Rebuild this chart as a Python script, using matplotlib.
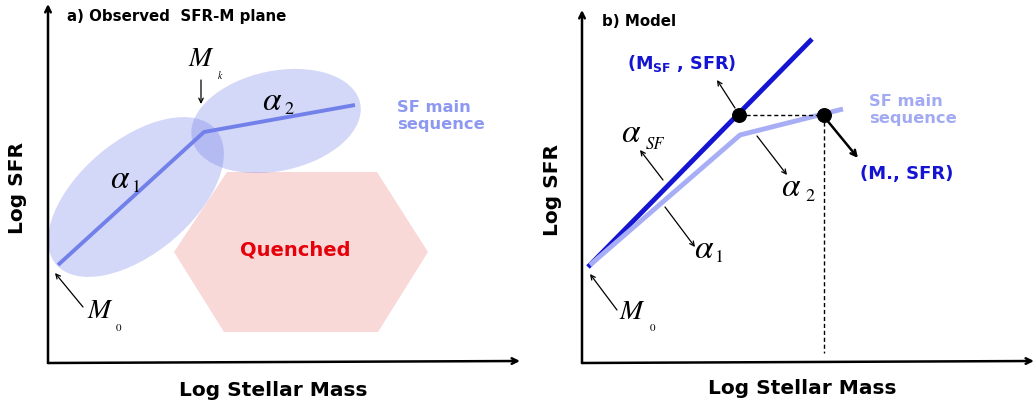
import matplotlib.pyplot as plt
from matplotlib.patches import Ellipse, Polygon

# ---- panel a: observed SFR-M plane (figure pixel coords, y down) ----
a_ms_x = [58, 204, 355]
a_ms_y = [265, 132, 105]
a_hex_x = [227, 377, 428, 378, 224, 174]
a_hex_y = [172, 172, 252, 332, 332, 252]
a_ell_cx = [136, 276]
a_ell_cy = [197, 121]
a_ell_w = [209, 172]
a_ell_h = [113, 100]
a_ell_ang = [40, 12]

# ---- panel b: model ----
b_sf_x = [588, 812]
b_sf_y = [267, 39]
b_ms_x = [590, 740, 843]
b_ms_y = [265, 135, 109]
b_pts_x = [739, 824]
b_pts_y = [115, 115]

fig = plt.figure(figsize=(10.34, 4.07), dpi=100)
ax = fig.add_axes([0, 0, 1, 1])
ax.set_xlim(0, 1034)
ax.set_ylim(407, 0)
ax.axis('off')

bold = dict(fontweight='bold', family='DejaVu Sans')


def arrow(x0, y0, x1, y1, lw=0.9, ms=8):
    ax.annotate('', xy=(x1, y1), xytext=(x0, y0),
                arrowprops=dict(arrowstyle='->', lw=lw, color='black',
                                mutation_scale=ms, shrinkA=0, shrinkB=0))


def greek(x, y, s, size=24):
    ax.text(x, y, s, fontsize=size, math_fontfamily='stix',
            ha='center', va='center')


def serif(x, y, s, size=10, style='italic'):
    ax.text(x, y, s, fontsize=size, family='STIXGeneral', style=style,
            ha='center', va='center')


# axes of both panels
for x0, x1, ytop in [(48, 520, 4), (582, 1034, 10)]:
    arrow(x0, 363, x0, ytop, lw=1.8, ms=10)
    arrow(x0, 363, x1, 361, lw=1.8, ms=10)

# panel a
ax.add_patch(Polygon(list(zip(a_hex_x, a_hex_y)), closed=True,
                     facecolor='#f9d8d8', edgecolor='none'))
for cx, cy, w, h, ang in zip(a_ell_cx, a_ell_cy, a_ell_w, a_ell_h, a_ell_ang):
    ax.add_patch(Ellipse((cx, cy), w, h, angle=-ang,
                         facecolor='#6f7de8', alpha=0.3, edgecolor='none'))
ax.plot(a_ms_x, a_ms_y, color='#7281ea', lw=2.8, solid_capstyle='butt')

ax.text(67, 16, 'a) Observed  SFR-M plane', fontsize=10.8, ha='left', va='center', **bold)
ax.text(18, 188, 'Log SFR', fontsize=14.5, rotation=90, ha='center', va='center', **bold)
ax.text(273, 390, 'Log Stellar Mass', fontsize=14.5, ha='center', va='center', **bold)
ax.text(295, 250, 'Quenched', fontsize=14, color='#e5000a', ha='center', va='center', **bold)
ax.text(397, 116, 'SF main\nsequence', fontsize=11.7, color='#8d98f0', ha='left',
        va='center', linespacing=1.25, **bold)

greek(120, 178, r'$\alpha$')
serif(137, 188, '1', 13, 'normal')
greek(272, 100, r'$\alpha$')
serif(289, 110, '2', 13, 'normal')
serif(200, 60, 'M', 20)
serif(220, 76, 'k', 7)
arrow(201, 80, 201, 104)
serif(99, 312, 'M', 20)
serif(119, 328, '0', 8, 'normal')
arrow(83, 307, 55, 273)

# panel b
ax.plot(b_sf_x, b_sf_y, color='#1414d2', lw=3.5, solid_capstyle='butt')
ax.plot(b_ms_x, b_ms_y, color='#a7aef5', lw=3.5, solid_capstyle='butt')
ax.plot(b_pts_x, b_pts_y, ls=(0, (3, 2)), color='black', lw=1)
ax.plot([b_pts_x[1], b_pts_x[1]], [b_pts_y[1], 353], ls=(0, (3, 2)), color='black', lw=1)
ax.scatter(b_pts_x, b_pts_y, s=95, color='black', zorder=5)

ax.text(602, 22, 'b) Model', fontsize=10.8, ha='left', va='center', **bold)
ax.text(552, 190, 'Log SFR', fontsize=14.5, rotation=90, ha='center', va='center', **bold)
ax.text(802, 388, 'Log Stellar Mass', fontsize=14.5, ha='center', va='center', **bold)
ax.text(682, 63, r'(M$_\mathbf{SF}$ , SFR)', fontsize=12.7, color='#1414d2',
        math_fontfamily='dejavusans', ha='center', va='center', **bold)
ax.text(860, 174, '(M., SFR)', fontsize=13, color='#1414d2', ha='left', va='center', **bold)
ax.text(869, 110, 'SF main\nsequence', fontsize=11.7, color='#a2aaf3', ha='left',
        va='center', linespacing=1.25, **bold)

arrow(735, 108, 717, 80)
arrow(826, 119, 858, 158, lw=1.8, ms=10)
arrow(663, 180, 640, 150)
arrow(757, 136, 787, 175)
arrow(665, 207, 695, 247)
arrow(617, 310, 590, 274)

greek(631, 133, r'$\alpha$')
serif(655, 145, 'SF', 12)
greek(791, 186, r'$\alpha$')
serif(810, 197, '2', 13, 'normal')
greek(704, 248, r'$\alpha$')
serif(720, 258, '1', 13, 'normal')
serif(631, 313, 'M', 20)
serif(652, 328, '0', 8, 'normal')

fig.savefig('out.png', dpi=100)
